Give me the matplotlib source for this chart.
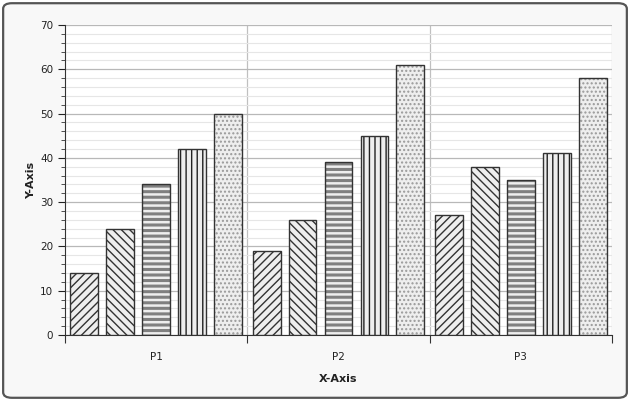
import numpy as np
import matplotlib.pyplot as plt
from matplotlib.patches import FancyBboxPatch

categories = ['P1', 'P2', 'P3']
series = [
    [14, 19, 27],
    [24, 26, 38],
    [34, 39, 35],
    [42, 45, 41],
    [50, 61, 58],
]
hatches = ['////', '\\\\\\\\', '---', '|||', '....']
hatch_colors = ['#333333', '#333333', '#808080', '#222222', '#999999']
hatch_widths = [1.0, 1.0, 2.2, 1.0, 1.0]

fig = plt.figure(figsize=(6.3, 4.01), dpi=100)
fig.patch.set_facecolor('white')

# rounded frame
frame = FancyBboxPatch((0.005, 0.008), 0.99, 0.984, boxstyle='round,pad=0,rounding_size=0.014',
                       transform=fig.transFigure, facecolor='#f8f8f8', edgecolor='#555555',
                       linewidth=1.6, zorder=-10)
fig.patches.append(frame)

ax = fig.add_axes([65 / 630, 1 - 335 / 401, (612 - 65) / 630, (335 - 25) / 401])
ax.set_zorder(5)
ax.set_facecolor('white')

n = len(series)
width = 0.152
step = 0.197
x = np.arange(len(categories))
for i, vals in enumerate(series):
    pos = x + (i - (n - 1) / 2) * step
    plt.rcParams['hatch.linewidth'] = hatch_widths[i]
    # fill + hatch in its own colour, then the outline on top
    ax.bar(pos, vals, width, facecolor='#eeeeee', edgecolor=hatch_colors[i], hatch=hatches[i],
           linewidth=0, zorder=3)
    ax.bar(pos, vals, width, facecolor='none', edgecolor='#333333', linewidth=1.0, zorder=4)

ax.set_xlim(-0.5, 2.5)
ax.set_ylim(0, 70)
ax.set_yticks(range(0, 71, 10))
ax.set_yticks(range(0, 71, 2), minor=True)
ax.grid(axis='y', which='major', color='#b8b8b8', linewidth=0.9, zorder=0)
ax.grid(axis='y', which='minor', color='#e6e6e6', linewidth=0.8, zorder=0)
for b in [0.5, 1.5, 2.5]:
    ax.axvline(b, color='#c0c0c0', linewidth=0.9, zorder=1)

ax.set_xticks([-0.5, 0.5, 1.5, 2.5])
ax.set_xticklabels([])
ax.set_xticks(x, minor=True)
ax.set_xticklabels(categories, minor=True)
ax.tick_params(axis='x', which='major', length=6, color='#333333')
ax.tick_params(axis='x', which='minor', length=0, pad=12, labelsize=7.5, colors='#222222')
ax.tick_params(axis='y', which='major', length=5, labelsize=7.5, colors='#222222')
ax.tick_params(axis='y', which='minor', length=3, color='#333333')

for s in ['top', 'right']:
    ax.spines[s].set_visible(False)
ax.spines['left'].set_color('#333333')
ax.spines['bottom'].set_color('#333333')

ax.set_xlabel('X-Axis', fontsize=8, fontweight='bold', labelpad=9, color='#222222')
ax.set_ylabel('Y-Axis', fontsize=8, fontweight='bold', labelpad=3, color='#222222')

fig.savefig('out.png', dpi=100)
